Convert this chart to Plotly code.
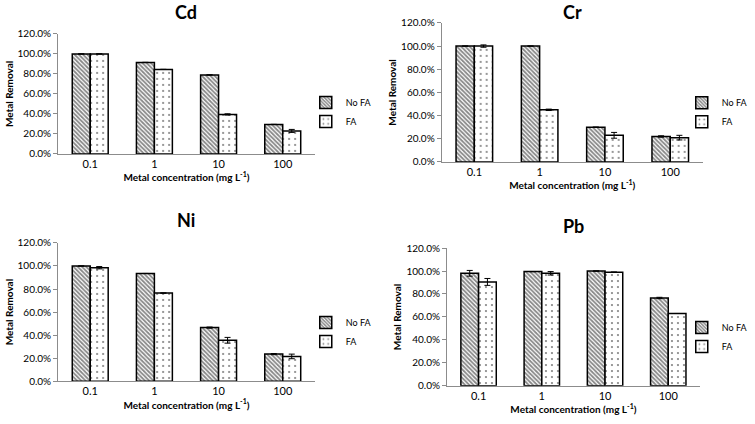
import plotly.graph_objects as go

# ---------------------------------------------------------------------
# Data
# ---------------------------------------------------------------------
CONCENTRATIONS = ["0.1", "1", "10", "100"]

CD_NO_FA = [100.0, 91.5, 79.0, 29.5]
CD_FA = [100.0, 84.5, 39.5, 23.0]
CD_NO_FA_ERR = [0.0, 0.0, 0.0, 0.0]
CD_FA_ERR = [0.0, 0.0, 0.6, 1.5]

CR_NO_FA = [100.0, 100.0, 30.0, 22.0]
CR_FA = [100.0, 45.0, 23.0, 21.0]
CR_NO_FA_ERR = [0.0, 0.0, 0.0, 0.6]
CR_FA_ERR = [1.0, 0.6, 2.5, 2.0]

NI_NO_FA = [100.0, 93.5, 46.5, 23.5]
NI_FA = [98.5, 76.5, 35.5, 21.5]
NI_NO_FA_ERR = [0.0, 0.0, 0.5, 0.5]
NI_FA_ERR = [1.0, 0.0, 2.5, 2.0]

PB_NO_FA = [98.0, 99.5, 100.0, 76.5]
PB_FA = [90.5, 98.0, 99.0, 63.0]
PB_NO_FA_ERR = [2.5, 0.0, 0.0, 0.6]
PB_FA_ERR = [3.0, 1.5, 0.0, 0.0]

Y_TICKS = [0, 20, 40, 60, 80, 100, 120]

FONT = "Lato, 'Open Sans', Arial, sans-serif"

# panel: (title, no_fa, fa, no_fa_err, fa_err, x-domain, y-domain, title y, legend pos)
PANELS = [
    ("Cd", CD_NO_FA, CD_FA, CD_NO_FA_ERR, CD_FA_ERR,
     [0.077, 0.417], [0.637, 0.920], 12, (0.405, 0.736)),
    ("Cr", CR_NO_FA, CR_FA, CR_NO_FA_ERR, CR_FA_ERR,
     [0.585, 0.931], [0.618, 0.946], 12, (0.903, 0.735)),
    ("Ni", NI_NO_FA, NI_FA, NI_NO_FA_ERR, NI_FA_ERR,
     [0.077, 0.417], [0.101, 0.427], 220, (0.405, 0.217)),
    ("Pb", PB_NO_FA, PB_FA, PB_NO_FA_ERR, PB_FA_ERR,
     [0.592, 0.927], [0.090, 0.415], 226, (0.903, 0.205)),
]

fig = go.Figure()

for i, (name, no_fa, fa, no_fa_err, fa_err, xdom, ydom, title_px, leg) in enumerate(PANELS, start=1):
    sfx = "" if i == 1 else str(i)
    legend_id = "legend" + sfx

    fig.add_trace(go.Bar(
        x=CONCENTRATIONS, y=no_fa, name="No FA",
        xaxis="x" + sfx, yaxis="y" + sfx, legend=legend_id,
        marker=dict(
            color="white",
            line=dict(color="black", width=1.5),
            pattern=dict(shape="\\", fgcolor="#111", bgcolor="white",
                         size=3, solidity=0.6),
        ),
        error_y=dict(type="data", array=no_fa_err, color="black",
                     thickness=1, width=3),
    ))
    fig.add_trace(go.Bar(
        x=CONCENTRATIONS, y=fa, name="FA",
        xaxis="x" + sfx, yaxis="y" + sfx, legend=legend_id,
        marker=dict(
            color="white",
            line=dict(color="black", width=1.5),
            pattern=dict(shape=".", fgcolor="black", bgcolor="white",
                         size=6, solidity=0.1),
        ),
        error_y=dict(type="data", array=fa_err, color="black",
                     thickness=1, width=3),
    ))

    fig.update_layout({
        "xaxis" + sfx: dict(
            domain=xdom, anchor="y" + sfx, type="category", automargin=False,
            showline=True, linecolor="#8c8c8c", linewidth=1,
            ticks="", showgrid=False, zeroline=False,
            tickfont=dict(size=11, color="black"),
            title=dict(text="<b>Metal concentration (mg L<sup>-1</sup>)</b>",
                       font=dict(size=10, color="black"), standoff=2),
        ),
        "yaxis" + sfx: dict(
            domain=ydom, anchor="x" + sfx, range=[0, 120], automargin=False,
            tickvals=Y_TICKS, ticktext=[f"{v:.1f}%" for v in Y_TICKS],
            showline=True, linecolor="#8c8c8c", linewidth=1,
            ticks="outside", ticklen=4, tickcolor="#8c8c8c",
            showgrid=False, zeroline=False,
            tickfont=dict(size=10, color="black"),
            title=dict(text="<b>Metal Removal</b>",
                       font=dict(size=10, color="black"), standoff=2),
        ),
        legend_id: dict(
            x=leg[0], y=leg[1], xanchor="left", yanchor="middle",
            font=dict(size=9, color="black"), bgcolor="rgba(0,0,0,0)",
            tracegroupgap=4,
        ),
    })

    fig.add_annotation(
        text=f"<b>{name}</b>", xref="paper", yref="paper",
        x=(xdom[0] + xdom[1]) / 2, y=1 - title_px / 424,
        xanchor="center", yanchor="middle", showarrow=False,
        font=dict(size=18, color="black"),
    )

fig.update_layout(
    width=755, height=424,
    margin=dict(l=0, r=0, t=0, b=0),
    paper_bgcolor="white", plot_bgcolor="white",
    barmode="group", bargap=0.44, bargroupgap=0,
    font=dict(family=FONT, color="black"),
)

# drop the browser's default 8px body margin so the figure sits at (0, 0)
fig.write_html(
    "out.html",
    config={"displayModeBar": False},
    post_script="document.body.style.margin = '0';",
)
